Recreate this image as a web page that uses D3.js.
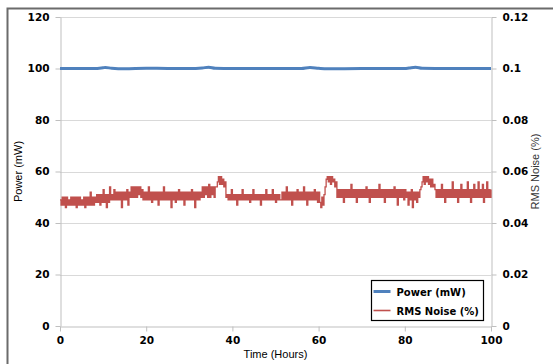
<!DOCTYPE html>
<html>
<head>
<meta charset="utf-8">
<script src="https://d3js.org/d3.v7.min.js"></script>
<style>
  body { margin: 0; background: #fff; }
  svg { display: block; }
</style>
</head>
<body>
<svg id="chart"></svg>
<script>
// data
var xTicks = [0, 20, 40, 60, 80, 100];
var leftTicks = [0, 20, 40, 60, 80, 100, 120];
var rightTicks = [0, 0.02, 0.04, 0.06, 0.08, 0.1, 0.12];

var powerHours = [0, 8, 10, 10.5, 12, 15, 20, 25, 30, 33, 34.5, 36, 40, 50, 56, 58, 60, 62, 70, 80, 81, 82.5, 84, 90, 100];
var powerValues = [100, 100, 100.3, 100.4, 100.1, 99.9, 100.1, 100, 100, 100.2, 100.5, 100.1, 100, 100, 100, 100.4, 100.1, 99.9, 100, 100, 100.2, 100.5, 100.1, 100, 100];

// RMS noise, evenly sampled from hour 0 to hour 100 (every quarter hour)
var noiseStart = 0, noiseEnd = 100;
var noiseValues = [
  0.049,0.047,0.050,0.047,0.050,0.046,0.050,0.047,0.049,0.047,0.050,0.047,0.050,0.047,0.050,0.046,0.050,0.047,0.050,0.047,
  0.049,0.047,0.050,0.046,0.050,0.047,0.050,0.047,0.052,0.047,0.050,0.047,0.050,
  0.048,0.051,0.048,0.051,0.047,0.051,0.048,0.053,0.048,0.051,0.046,0.051,0.048,0.054,0.049,0.051,0.049,0.053,0.049,0.052,
  0.049,0.052,0.049,0.052,0.046,0.052,0.049,0.052,0.049,0.053,0.047,0.052,
  0.050,0.054,0.050,0.054,0.050,0.054,0.050,0.054,0.051,0.054,0.050,0.053,
  0.049,0.052,0.049,0.052,0.049,0.054,0.049,0.052,0.048,0.052,0.049,0.052,0.049,0.052,0.047,0.052,0.049,0.052,0.049,0.054,
  0.049,0.052,0.049,0.052,0.049,0.052,0.046,0.052,0.049,0.052,0.048,0.052,0.049,0.053,0.049,0.052,0.049,0.052,0.047,0.052,
  0.049,0.052,0.049,0.052,0.049,0.053,0.049,0.052,0.046,0.052,0.049,0.052,0.049,0.052,
  0.050,0.054,0.050,0.054,0.051,0.054,0.050,0.055,0.050,0.054,0.051,0.054,0.050,0.054,
  0.054,0.056,0.058,0.055,0.058,0.055,0.057,0.054,0.056,
  0.050,0.051,0.049,0.051,0.049,0.053,0.049,0.051,0.049,0.051,0.047,0.051,0.049,0.051,0.049,0.053,0.049,0.051,0.049,0.051,
  0.049,0.051,0.048,0.051,0.049,0.053,0.049,0.051,0.049,0.051,0.049,0.051,0.047,0.051,0.049,0.051,0.049,0.053,0.049,0.051,
  0.049,0.051,0.049,0.053,0.049,0.051,0.048,0.051,0.049,0.051,0.049,
  0.049,0.052,0.049,0.052,0.049,0.054,0.049,0.052,0.049,0.052,0.047,0.052,0.049,0.052,0.049,0.053,0.049,0.052,
  0.049,0.052,0.049,0.054,0.049,0.052,0.047,0.052,0.049,0.052,0.049,0.052,0.049,0.053,0.049,0.052,0.048,0.052,
  0.048,0.046,0.050,0.047,0.051,
  0.054,0.057,0.058,0.056,0.058,0.055,0.058,0.056,0.057,0.054,0.056,
  0.050,0.053,0.050,0.053,0.050,0.053,0.048,0.053,0.050,0.053,0.050,0.053,0.050,0.055,0.050,0.053,0.050,0.053,0.048,0.053,
  0.050,0.053,0.050,0.053,0.050,0.053,0.050,0.054,0.050,0.053,0.048,0.053,0.050,0.053,0.050,0.053,0.050,0.053,0.050,0.055,
  0.050,0.053,0.050,0.053,0.048,0.053,0.050,0.053,0.050,0.053,0.050,0.053,0.050,0.054,0.050,0.053,0.047,0.053,0.050,0.053,
  0.050,0.053,0.049,0.053,0.050,0.052,0.047,0.052,0.049,0.053,0.046,0.052,0.049,0.052,0.048,0.052,0.050,0.053,
  0.054,0.056,0.058,0.055,0.058,0.056,0.058,0.055,0.057,0.054,0.057,0.054,0.055,0.053,
  0.050,0.053,0.050,0.053,0.050,0.055,0.050,0.053,0.048,0.053,0.050,0.053,0.050,0.053,0.050,0.056,0.050,0.053,0.050,0.053,
  0.048,0.053,0.050,0.055,0.050,0.053,0.050,0.053,0.050,0.056,0.050,0.053,0.048,0.053,0.050,0.055,0.050,0.053,0.050,0.056,
  0.050,0.053,0.050,0.055,0.048,0.053,0.050,0.056,0.050,0.053,0.050,0.053
];

var width = 553, height = 364;
var plot = { left: 60, right: 491, top: 17, bottom: 326 };
var numFont = "'DejaVu Sans', Verdana, sans-serif";
var titleFont = "'Liberation Sans', Arial, sans-serif";

var svg = d3.select('#chart').attr('width', width).attr('height', height);

// outer frame (right and bottom run off the picture)
svg.append('path')
  .attr('d', 'M7.5,' + height + 'V8.5H' + width)
  .attr('fill', 'none').attr('stroke', '#6b6b6b').attr('stroke-width', 2);

var x = d3.scaleLinear().domain([0, 100]).range([plot.left, plot.right]);
var yL = d3.scaleLinear().domain([0, 120]).range([plot.bottom, plot.top]);
var yR = d3.scaleLinear().domain([0, 0.12]).range([plot.bottom, plot.top]);

// gridlines
svg.append('g').selectAll('line')
  .data(leftTicks.filter(function(d) { return d > 0; }))
  .enter().append('line')
  .attr('x1', plot.left).attr('x2', plot.right)
  .attr('y1', function(d) { return Math.round(yL(d)) + 0.5; })
  .attr('y2', function(d) { return Math.round(yL(d)) + 0.5; })
  .attr('stroke', '#d9d9d9');

function styleAxis(g) {
  g.select('.domain').attr('stroke', '#bfbfbf');
  g.selectAll('.tick line').attr('stroke', '#bfbfbf');
  g.selectAll('.tick text')
    .attr('fill', '#000')
    .attr('font-family', numFont)
    .attr('font-weight', 'bold')
    .attr('font-size', '10.5px');
}

svg.append('g')
  .attr('transform', 'translate(0,' + (plot.bottom + 0.5) + ')')
  .call(d3.axisBottom(x).tickValues(xTicks).tickSize(5).tickSizeOuter(0).tickPadding(5))
  .call(styleAxis);

svg.append('g')
  .attr('transform', 'translate(' + (plot.left + 0.5) + ',0)')
  .call(d3.axisLeft(yL).tickValues(leftTicks).tickSize(5).tickSizeOuter(0).tickPadding(6))
  .call(styleAxis);

svg.append('g')
  .attr('transform', 'translate(' + (plot.right + 0.5) + ',0)')
  .call(d3.axisRight(yR).tickValues(rightTicks).tickSize(5).tickSizeOuter(0).tickPadding(6)
    .tickFormat(function(d) { return d === 0 ? '0' : String(+d.toFixed(2)); }))
  .call(styleAxis);

// axis titles
svg.append('text')
  .attr('x', (plot.left + plot.right) / 2).attr('y', 358)
  .attr('text-anchor', 'middle')
  .attr('font-family', titleFont).attr('font-size', '11px')
  .text('Time (Hours)');

svg.append('text')
  .attr('transform', 'translate(22,' + ((plot.top + plot.bottom) / 2) + ') rotate(-90)')
  .attr('text-anchor', 'middle')
  .attr('font-family', titleFont).attr('font-size', '11px')
  .text('Power (mW)');

svg.append('text')
  .attr('transform', 'translate(539,' + ((plot.top + plot.bottom) / 2) + ') rotate(-90)')
  .attr('text-anchor', 'middle')
  .attr('font-family', titleFont).attr('font-size', '11px').attr('fill', '#333')
  .text('RMS Noise (%)');

// series
var noiseStep = (noiseEnd - noiseStart) / (noiseValues.length - 1);
var noiseData = noiseValues.map(function(v, i) { return [noiseStart + i * noiseStep, v]; });
var noiseLine = d3.line()
  .x(function(d) { return x(d[0]); })
  .y(function(d) { return yR(d[1]); })
  .curve(d3.curveStepAfter);
svg.append('path')
  .datum(noiseData)
  .attr('d', noiseLine)
  .attr('fill', 'none').attr('stroke', '#c0504d').attr('stroke-width', 1.3);

var powerData = powerHours.map(function(h, i) { return [h, powerValues[i]]; });
var powerLine = d3.line()
  .x(function(d) { return x(d[0]); })
  .y(function(d) { return yL(d[1]); })
  .curve(d3.curveMonotoneX);
svg.append('path')
  .datum(powerData)
  .attr('d', powerLine)
  .attr('fill', 'none').attr('stroke', '#4f81bd').attr('stroke-width', 3);

// legend
var legend = svg.append('g').attr('transform', 'translate(371.5,280.5)');
legend.append('rect')
  .attr('width', 112).attr('height', 40)
  .attr('fill', '#fff').attr('stroke', '#000').attr('stroke-width', 1.2);
var items = [
  { name: 'Power (mW)', color: '#4f81bd', w: 3 },
  { name: 'RMS Noise (%)', color: '#c0504d', w: 1.6 }
];
items.forEach(function(it, i) {
  var cy = 11 + i * 19;
  legend.append('line')
    .attr('x1', 2).attr('x2', 19).attr('y1', cy).attr('y2', cy)
    .attr('stroke', it.color).attr('stroke-width', it.w);
  legend.append('text')
    .attr('x', 25).attr('y', cy + 4)
    .attr('font-family', numFont).attr('font-weight', 'bold').attr('font-size', '10px')
    .text(it.name);
});
</script>
</body>
</html>
